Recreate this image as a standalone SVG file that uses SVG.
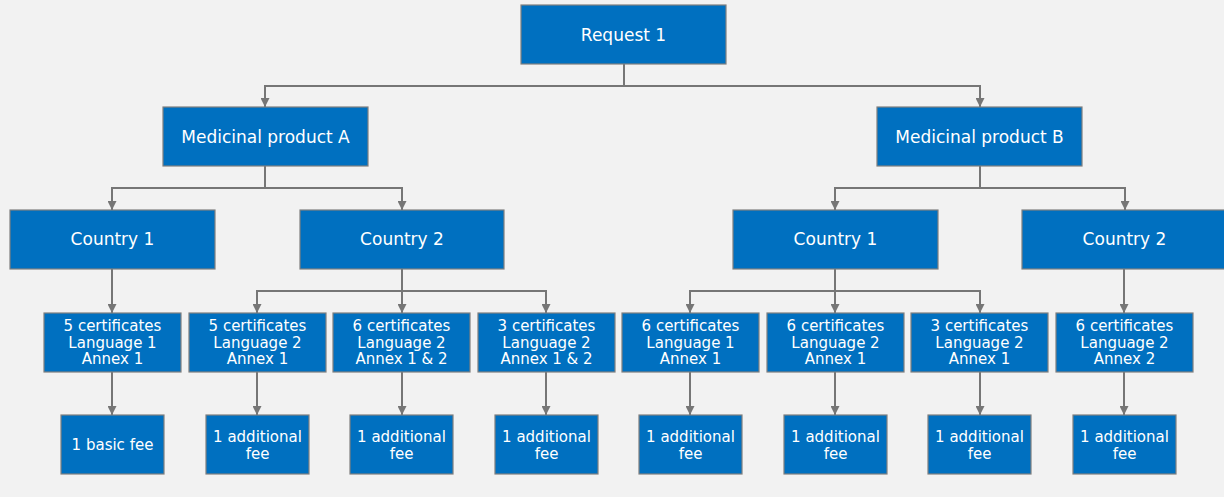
<svg xmlns="http://www.w3.org/2000/svg" width="1224" height="497" viewBox="0 0 1224 497">
<defs>
<marker id="arr" viewBox="0 0 10 10" refX="10" refY="5" markerWidth="4.5" markerHeight="4.5" orient="auto" markerUnits="strokeWidth">
<path d="M0,0 L10,5 L0,10 z" fill="#767676"/>
</marker>
<style>
.box{fill:#0070C0;stroke:#7F7F7F;stroke-width:1.2}
.t{fill:#FFFFFF;font-family:"DejaVu Sans",Verdana,sans-serif;text-anchor:middle}
.l{font-size:17px}
.s{font-size:15px}
.c{fill:none;stroke:#767676;stroke-width:2}
</style>
</defs>
<rect width="1224" height="497" fill="#F2F2F2"/>
<g id="connectors">
<path class="c" d="M624,64 V86 H265 V107" marker-end="url(#arr)"/>
<path class="c" d="M624,86 H980 V107" marker-end="url(#arr)"/>
<path class="c" d="M265,166 V188 H112 V210" marker-end="url(#arr)"/>
<path class="c" d="M265,188 H402 V210" marker-end="url(#arr)"/>
<path class="c" d="M980,166 V188 H835 V210" marker-end="url(#arr)"/>
<path class="c" d="M980,188 H1125 V210" marker-end="url(#arr)"/>
<path class="c" d="M112,269 V313" marker-end="url(#arr)"/>
<path class="c" d="M402,269 V291 H257 V313" marker-end="url(#arr)"/>
<path class="c" d="M402,291 V313" marker-end="url(#arr)"/>
<path class="c" d="M402,291 H546 V313" marker-end="url(#arr)"/>
<path class="c" d="M835,269 V291 H690 V313" marker-end="url(#arr)"/>
<path class="c" d="M835,291 V313" marker-end="url(#arr)"/>
<path class="c" d="M835,291 H980 V313" marker-end="url(#arr)"/>
<path class="c" d="M1124,269 V313" marker-end="url(#arr)"/>
<path class="c" d="M112,372 V415" marker-end="url(#arr)"/>
<path class="c" d="M257,372 V415" marker-end="url(#arr)"/>
<path class="c" d="M402,372 V415" marker-end="url(#arr)"/>
<path class="c" d="M546,372 V415" marker-end="url(#arr)"/>
<path class="c" d="M690,372 V415" marker-end="url(#arr)"/>
<path class="c" d="M835,372 V415" marker-end="url(#arr)"/>
<path class="c" d="M980,372 V415" marker-end="url(#arr)"/>
<path class="c" d="M1124,372 V415" marker-end="url(#arr)"/>
</g>
<g id="request1"><rect class="box" x="521" y="5" width="205" height="59"/><text class="t l" x="623.5" y="41">Request 1</text></g>
<g id="productA"><rect class="box" x="163" y="107" width="205" height="59"/><text class="t l" x="265.5" y="143">Medicinal product A</text></g>
<g id="productB"><rect class="box" x="877" y="107" width="205" height="59"/><text class="t l" x="979.5" y="143">Medicinal product B</text></g>
<g id="A_country1"><rect class="box" x="10" y="210" width="205" height="59"/><text class="t l" x="112.5" y="245">Country 1</text></g>
<g id="A_country2"><rect class="box" x="300" y="210" width="204" height="59"/><text class="t l" x="402" y="245">Country 2</text></g>
<g id="B_country1"><rect class="box" x="733" y="210" width="205" height="59"/><text class="t l" x="835.5" y="245">Country 1</text></g>
<g id="B_country2"><rect class="box" x="1022" y="210" width="205" height="59"/><text class="t l" x="1124.5" y="245">Country 2</text></g>
<g id="cert1"><rect class="box" x="44" y="313" width="137" height="59"/><text class="t s" x="112.5" y="331">5 certificates<tspan x="112.5" dy="16.5">Language 1</tspan><tspan x="112.5" dy="16.5">Annex 1</tspan></text></g>
<g id="cert2"><rect class="box" x="189" y="313" width="137" height="59"/><text class="t s" x="257.5" y="331">5 certificates<tspan x="257.5" dy="16.5">Language 2</tspan><tspan x="257.5" dy="16.5">Annex 1</tspan></text></g>
<g id="cert3"><rect class="box" x="333" y="313" width="137" height="59"/><text class="t s" x="401.5" y="331">6 certificates<tspan x="401.5" dy="16.5">Language 2</tspan><tspan x="401.5" dy="16.5">Annex 1 &amp; 2</tspan></text></g>
<g id="cert4"><rect class="box" x="478" y="313" width="137" height="59"/><text class="t s" x="546.5" y="331">3 certificates<tspan x="546.5" dy="16.5">Language 2</tspan><tspan x="546.5" dy="16.5">Annex 1 &amp; 2</tspan></text></g>
<g id="cert5"><rect class="box" x="622" y="313" width="137" height="59"/><text class="t s" x="690.5" y="331">6 certificates<tspan x="690.5" dy="16.5">Language 1</tspan><tspan x="690.5" dy="16.5">Annex 1</tspan></text></g>
<g id="cert6"><rect class="box" x="767" y="313" width="137" height="59"/><text class="t s" x="835.5" y="331">6 certificates<tspan x="835.5" dy="16.5">Language 2</tspan><tspan x="835.5" dy="16.5">Annex 1</tspan></text></g>
<g id="cert7"><rect class="box" x="911" y="313" width="137" height="59"/><text class="t s" x="979.5" y="331">3 certificates<tspan x="979.5" dy="16.5">Language 2</tspan><tspan x="979.5" dy="16.5">Annex 1</tspan></text></g>
<g id="cert8"><rect class="box" x="1056" y="313" width="137" height="59"/><text class="t s" x="1124.5" y="331">6 certificates<tspan x="1124.5" dy="16.5">Language 2</tspan><tspan x="1124.5" dy="16.5">Annex 2</tspan></text></g>
<g id="fee1"><rect class="box" x="61" y="415" width="103" height="59"/><text class="t s" x="112.5" y="450">1 basic fee</text></g>
<g id="fee2"><rect class="box" x="206" y="415" width="103" height="59"/><text class="t s" x="257.5" y="442">1 additional<tspan x="257.5" dy="16.5">fee</tspan></text></g>
<g id="fee3"><rect class="box" x="350" y="415" width="103" height="59"/><text class="t s" x="401.5" y="442">1 additional<tspan x="401.5" dy="16.5">fee</tspan></text></g>
<g id="fee4"><rect class="box" x="495" y="415" width="103" height="59"/><text class="t s" x="546.5" y="442">1 additional<tspan x="546.5" dy="16.5">fee</tspan></text></g>
<g id="fee5"><rect class="box" x="639" y="415" width="103" height="59"/><text class="t s" x="690.5" y="442">1 additional<tspan x="690.5" dy="16.5">fee</tspan></text></g>
<g id="fee6"><rect class="box" x="784" y="415" width="103" height="59"/><text class="t s" x="835.5" y="442">1 additional<tspan x="835.5" dy="16.5">fee</tspan></text></g>
<g id="fee7"><rect class="box" x="928" y="415" width="103" height="59"/><text class="t s" x="979.5" y="442">1 additional<tspan x="979.5" dy="16.5">fee</tspan></text></g>
<g id="fee8"><rect class="box" x="1073" y="415" width="103" height="59"/><text class="t s" x="1124.5" y="442">1 additional<tspan x="1124.5" dy="16.5">fee</tspan></text></g>
</svg>
